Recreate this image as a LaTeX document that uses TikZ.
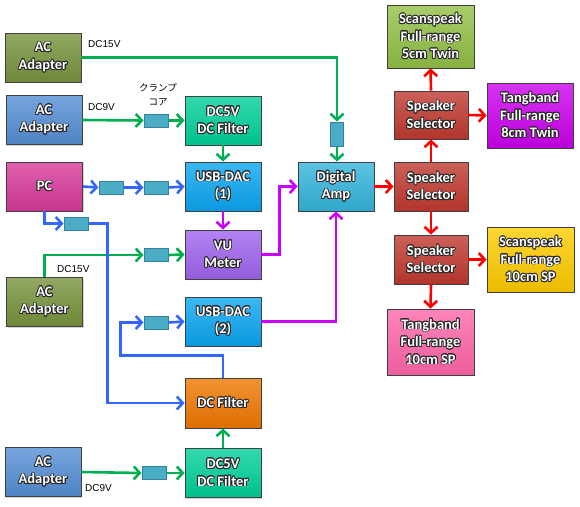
\documentclass[tikz,border=0pt]{standalone}
\usepackage{fontspec}
\setmainfont{Carlito}
\newfontfamily\lblfont{Liberation Sans}
\newfontfamily\jpfont{Noto Sans CJK JP}
\usepackage{contour}
\contourlength{0.8pt}
\usetikzlibrary{arrows.meta,shadows}
\definecolor{acolive}{HTML}{77933C}
\definecolor{acblue}{HTML}{558ED5}
\definecolor{pcpink}{HTML}{D8399B}
\definecolor{fltteal}{HTML}{00D09A}
\definecolor{dacblue}{HTML}{0AA6F2}
\definecolor{vupurple}{HTML}{A064F0}
\definecolor{dcforange}{HTML}{F07800}
\definecolor{ampcyan}{HTML}{33B5DC}
\definecolor{selred}{HTML}{C0392F}
\definecolor{spgreen}{HTML}{92C045}
\definecolor{spviolet}{HTML}{CC00EE}
\definecolor{spgold}{HTML}{FFCC00}
\definecolor{sppink}{HTML}{FF66AA}
\definecolor{corefill}{HTML}{4BACC6}
\definecolor{corebd}{HTML}{31849B}
\definecolor{wgreen}{HTML}{00B050}
\definecolor{wblue}{HTML}{3366FF}
\definecolor{wmag}{HTML}{CC00FF}
\definecolor{wred}{HTML}{FF0000}
\tikzstyle{blk}=[draw=black!75,line width=0.9pt,minimum width=76pt,minimum height=49pt,
  inner sep=0pt,align=center,text=white,font=\bfseries\fontsize{14.5}{17.5}\selectfont,
  drop shadow={opacity=0.35,shadow xshift=1.2pt,shadow yshift=-1.2pt}]
\tikzset{tint/.style={top color=#1!80!white,bottom color=#1!92!black}}
\tikzstyle{core}=[draw=corebd,fill=corefill,line width=1pt,minimum width=24pt,minimum height=13pt,inner sep=0pt]
\tikzstyle{lbl}=[font=\lblfont\fontsize{10}{12}\selectfont,inner sep=0pt]
\tikzstyle{wire}=[line width=2.6pt,-{Straight Barb[length=6pt,width=13pt]}]
\newcommand{\sh}[1]{\contour{black!85}{#1}}

\begin{document}
\begin{tikzpicture}[x=1pt,y=-1pt]
  \useasboundingbox (0,0) rectangle (580,506);
  % power and source side
  \node[blk,tint=acolive] (ac1) at (43,57.5) {\sh{AC}\\\sh{Adapter}};
  \node[blk,tint=acblue] (ac2) at (44,120) {\sh{AC}\\\sh{Adapter}};
  \node[blk,tint=pcpink] (pc) at (44.5,186.5) {\sh{PC}};
  \node[blk,tint=acolive] (ac3) at (44.5,302) {\sh{AC}\\\sh{Adapter}};
  \node[blk,tint=acblue] (ac4) at (43,472) {\sh{AC}\\\sh{Adapter}};
  \node[blk,tint=fltteal] (flt1) at (223,120.5) {\sh{DC5V}\\\sh{DC Filter}};
  \node[blk,tint=dacblue] (dac1) at (223,186.5) {\sh{USB-DAC}\\\sh{(1)}};
  \node[blk,tint=vupurple] (vu) at (223,254.5) {\sh{VU}\\\sh{Meter}};
  \node[blk,tint=dacblue] (dac2) at (223,321.5) {\sh{USB-DAC}\\\sh{(2)}};
  \node[blk,tint=dcforange,minimum height=50pt] (dcf) at (223,403) {\sh{DC Filter}};
  \node[blk,tint=fltteal] (flt2) at (223,473) {\sh{DC5V}\\\sh{DC Filter}};
  % amp and speakers
  \node[blk,tint=ampcyan] (amp) at (336,186.5) {\sh{Digital}\\\sh{Amp}};
  \node[blk,tint=selred,minimum width=74pt,minimum height=48pt] (sel0) at (431,115) {\sh{Speaker}\\\sh{Selector}};
  \node[blk,tint=selred,minimum width=74pt] (sel1) at (431,186.5) {\sh{Speaker}\\\sh{Selector}};
  \node[blk,tint=selred,minimum width=74pt] (sel2) at (431,259.5) {\sh{Speaker}\\\sh{Selector}};
  \node[blk,tint=spgreen,minimum width=87pt,minimum height=63pt] (sc5) at (430.5,36.5) {\sh{Scanspeak}\\\sh{Full-range}\\\sh{5cm Twin}};
  \node[blk,tint=spviolet,minimum width=86pt,minimum height=65pt] (tb8) at (530,115.5) {\sh{Tangband}\\\sh{Full-range}\\\sh{8cm Twin}};
  \node[blk,tint=spgold,minimum width=87pt,minimum height=65pt] (sc10) at (530.5,259.5) {\sh{Scanspeak}\\\sh{Full-range}\\\sh{10cm SP}};
  \node[blk,tint=sppink,minimum width=87pt,minimum height=66pt] (tb10) at (430.5,342) {\sh{Tangband}\\\sh{Full-range}\\\sh{10cm SP}};
  % clamp cores
  \node[core] (cA) at (156,120.5) {};
  \node[core] (cB1) at (111,187.5) {};
  \node[core] (cB2) at (156,187.5) {};
  \node[core] (cC) at (76,223.5) {};
  \node[core] (cD) at (156,255) {};
  \node[core] (cE) at (156,322.5) {};
  \node[core] (cF) at (154,473) {};
  \node[core,minimum width=13pt,minimum height=24pt] (cG) at (337,134) {};
  % labels
  \node[lbl,anchor=west] (v15a) at (88,44.5) {DC15V};
  \node[lbl,anchor=west] (v9a) at (88,107) {DC9V};
  \node[font=\jpfont\fontsize{9.5}{14}\selectfont,align=center,inner sep=0pt] (clamp) at (158,95) {クランプ\\コア};
  \node[lbl,anchor=west] (v15b) at (57,269.5) {DC15V};
  \node[lbl,anchor=west] (v9b) at (85,488) {DC9V};
  % green power wires
  \draw[wire,wgreen] (ac1.east) -| (cG.north);
  \draw[wire,wgreen] (cG.south) -- (cG.south |- amp.north);
  \draw[wire,wgreen] (ac2.east) -- (cA.west);
  \draw[wire,wgreen] (cA.east) -- (flt1.west);
  \draw[wire,wgreen] (flt1.south) -- (dac1.north);
  \draw[wire,wgreen] (ac3.north) |- (cD.west);
  \draw[wire,wgreen] (cD.east) -- (vu.west);
  \draw[wire,wgreen] (ac4.east) -- (cF.west);
  \draw[wire,wgreen] (cF.east) -- (flt2.west);
  \draw[wire,wgreen] (flt2.north) -- (dcf.south);
  % blue usb wires
  \draw[wire,wblue] (pc.east) -- (cB1.west);
  \draw[wire,wblue] (cB1.east) -- (cB2.west);
  \draw[wire,wblue] (cB2.east) -- (dac1.west);
  \draw[wire,wblue] (pc.south) |- (cC.west);
  \draw[wire,wblue] (cC.east) -| ([xshift=-77pt]dcf.west) -- (dcf.west);
  \draw[wire,wblue] (dcf.north) -- ++(0,-22) -| ([xshift=-23pt]cE.west) -- (cE.west);
  \draw[wire,wblue] (cE.east) -- (dac2.west);
  % magenta audio wires
  \draw[wire,wmag] (dac1.south) -- (vu.north);
  \draw[wire,wmag] (vu.east) -| ([xshift=-18pt]amp.west) -- (amp.west);
  \draw[wire,wmag] (dac2.east) -| (amp.south);
  % red speaker wires
  \foreach \a/\b in {amp.east/sel1.west,sel1.north/sel0.south,sel0.north/sc5.south,
    sel0.east/tb8.west,sel1.south/sel2.north,sel2.east/sc10.west,sel2.south/tb10.north}
    \draw[wire,wred] (\a) -- (\b);
\end{tikzpicture}
\end{document}
